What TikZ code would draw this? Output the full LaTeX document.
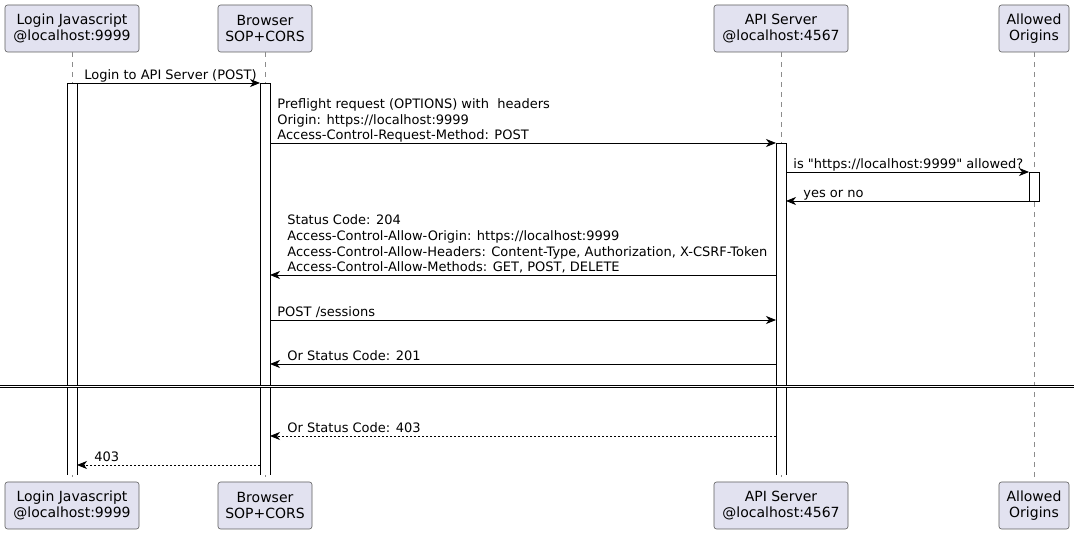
\documentclass[tikz,border=0pt]{standalone}
\usepackage{fontspec}
\setmainfont{DejaVu Sans}
\definecolor{p_fill}{HTML}{E2E2F0}
\definecolor{p_line}{HTML}{181818}
\usetikzlibrary{arrows.meta}

\begin{document}
\begin{tikzpicture}[
        x=1pt, y=-1pt,
        participant/.style={draw=p_line!70, fill=p_fill, rounded corners=2.5pt, line width=0.6pt,
            minimum height=47pt, inner sep=0pt, align=center, font=\fontsize{14}{16.5}\selectfont},
        lifeline/.style={draw=black!45, line width=0.6pt, dash pattern=on 5pt off 5pt},
        actbar/.style={fill=white, minimum width=10pt, inner sep=0pt, outer sep=0pt, anchor=north},
        barline/.style={draw=black, line width=0.8pt},
        msg/.style={draw=black, line width=0.8pt, -{Stealth[length=10pt,width=8pt,inset=3pt]}},
        reply/.style={msg, dash pattern=on 2pt off 2pt},
        lbl/.style={anchor=base west, inner sep=0pt, align=left, yshift=3pt,
            font=\fontsize{13}{15.7}\selectfont},
        divider/.style={draw=black, line width=0.8pt, double, double distance=1.6pt}
    ]
        \useasboundingbox (0,0) rectangle (1080,534);
        % participants, top and bottom
        \node[participant, minimum width=134pt] (ljs) at (72,28.5) {Login Javascript\\@localhost:9999};
        \node[participant, minimum width=94pt] (br) at (265,28.5) {Browser\\SOP+CORS};
        \node[participant, minimum width=134pt] (api) at (781,28.5) {API Server\\@localhost:4567};
        \node[participant, minimum width=70pt] (ao) at (1034,28.5) {Allowed\\Origins};
        \node[participant, minimum width=134pt] (ljs-b) at (72,505.5) {Login Javascript\\@localhost:9999};
        \node[participant, minimum width=94pt] (br-b) at (265,505.5) {Browser\\SOP+CORS};
        \node[participant, minimum width=134pt] (api-b) at (781,505.5) {API Server\\@localhost:4567};
        \node[participant, minimum width=70pt] (ao-b) at (1034,505.5) {Allowed\\Origins};
        \foreach \p in {ljs,br,api,ao}
            \draw[lifeline] (\p.south) -- (\p-b.north);
        % activations (the long ones stay open at the bottom)
        \node[actbar, minimum height=392pt] (aL) at (72,83) {};
        \node[actbar, minimum height=392pt] (aB) at (265,83) {};
        \node[actbar, minimum height=332pt] (aA) at (781,143) {};
        \node[actbar, minimum height=29pt] (aO) at (1034,172) {};
        \foreach \a in {aL,aB,aA}
            \draw[barline] (\a.south west) -- (\a.north west) -- (\a.north east) -- (\a.south east);
        \draw[barline] (aO.south west) rectangle (aO.north east);
        % messages
        \draw[msg] (ljs |- aL.north) -- (aB.north west)
            node[lbl, pos=0, xshift=12pt] {Login to API Server (POST)};
        \draw[msg] (aB.east |- aA.north) -- (aA.north west)
            node[lbl, pos=0, xshift=7pt] {Preflight request (OPTIONS) with\ \ headers\\Origin: https://localhost:9999\\Access-Control-Request-Method: POST};
        \draw[msg] (aA.east |- aO.north) -- (aO.north west)
            node[lbl, pos=0, xshift=7pt] {is \textquotedbl https://localhost:9999\textquotedbl\ allowed?};
        \draw[msg] (aO.south west) -- (aA.east |- aO.south)
            node[lbl, pos=1, xshift=17pt] {yes or no};
        \draw[msg] (aA.west |- 0,275) -- (aB.east |- 0,275)
            node[lbl, pos=1, xshift=17pt] {Status Code: 204\\Access-Control-Allow-Origin: https://localhost:9999\\Access-Control-Allow-Headers: Content-Type, Authorization, X-CSRF-Token\\Access-Control-Allow-Methods: GET, POST, DELETE};
        \draw[msg] (aB.east |- 0,320) -- (aA.west |- 0,320)
            node[lbl, pos=0, xshift=7pt] {POST /sessions};
        \draw[msg] (aA.west |- 0,364) -- (aB.east |- 0,364)
            node[lbl, pos=1, xshift=17pt] {Or Status Code: 201};
        % divider
        \coordinate (dl) at (0,386.5);
        \coordinate (dr) at (1074,386.5);
        \draw[divider] (dl) -- (dr);
        \draw[reply] (aA.west |- 0,436) -- (aB.east |- 0,436)
            node[lbl, pos=1, xshift=17pt] {Or Status Code: 403};
        \draw[reply] (aB.west |- 0,465) -- (aL.east |- 0,465)
            node[lbl, pos=1, xshift=17pt] {403};
    \end{tikzpicture}
\end{document}
